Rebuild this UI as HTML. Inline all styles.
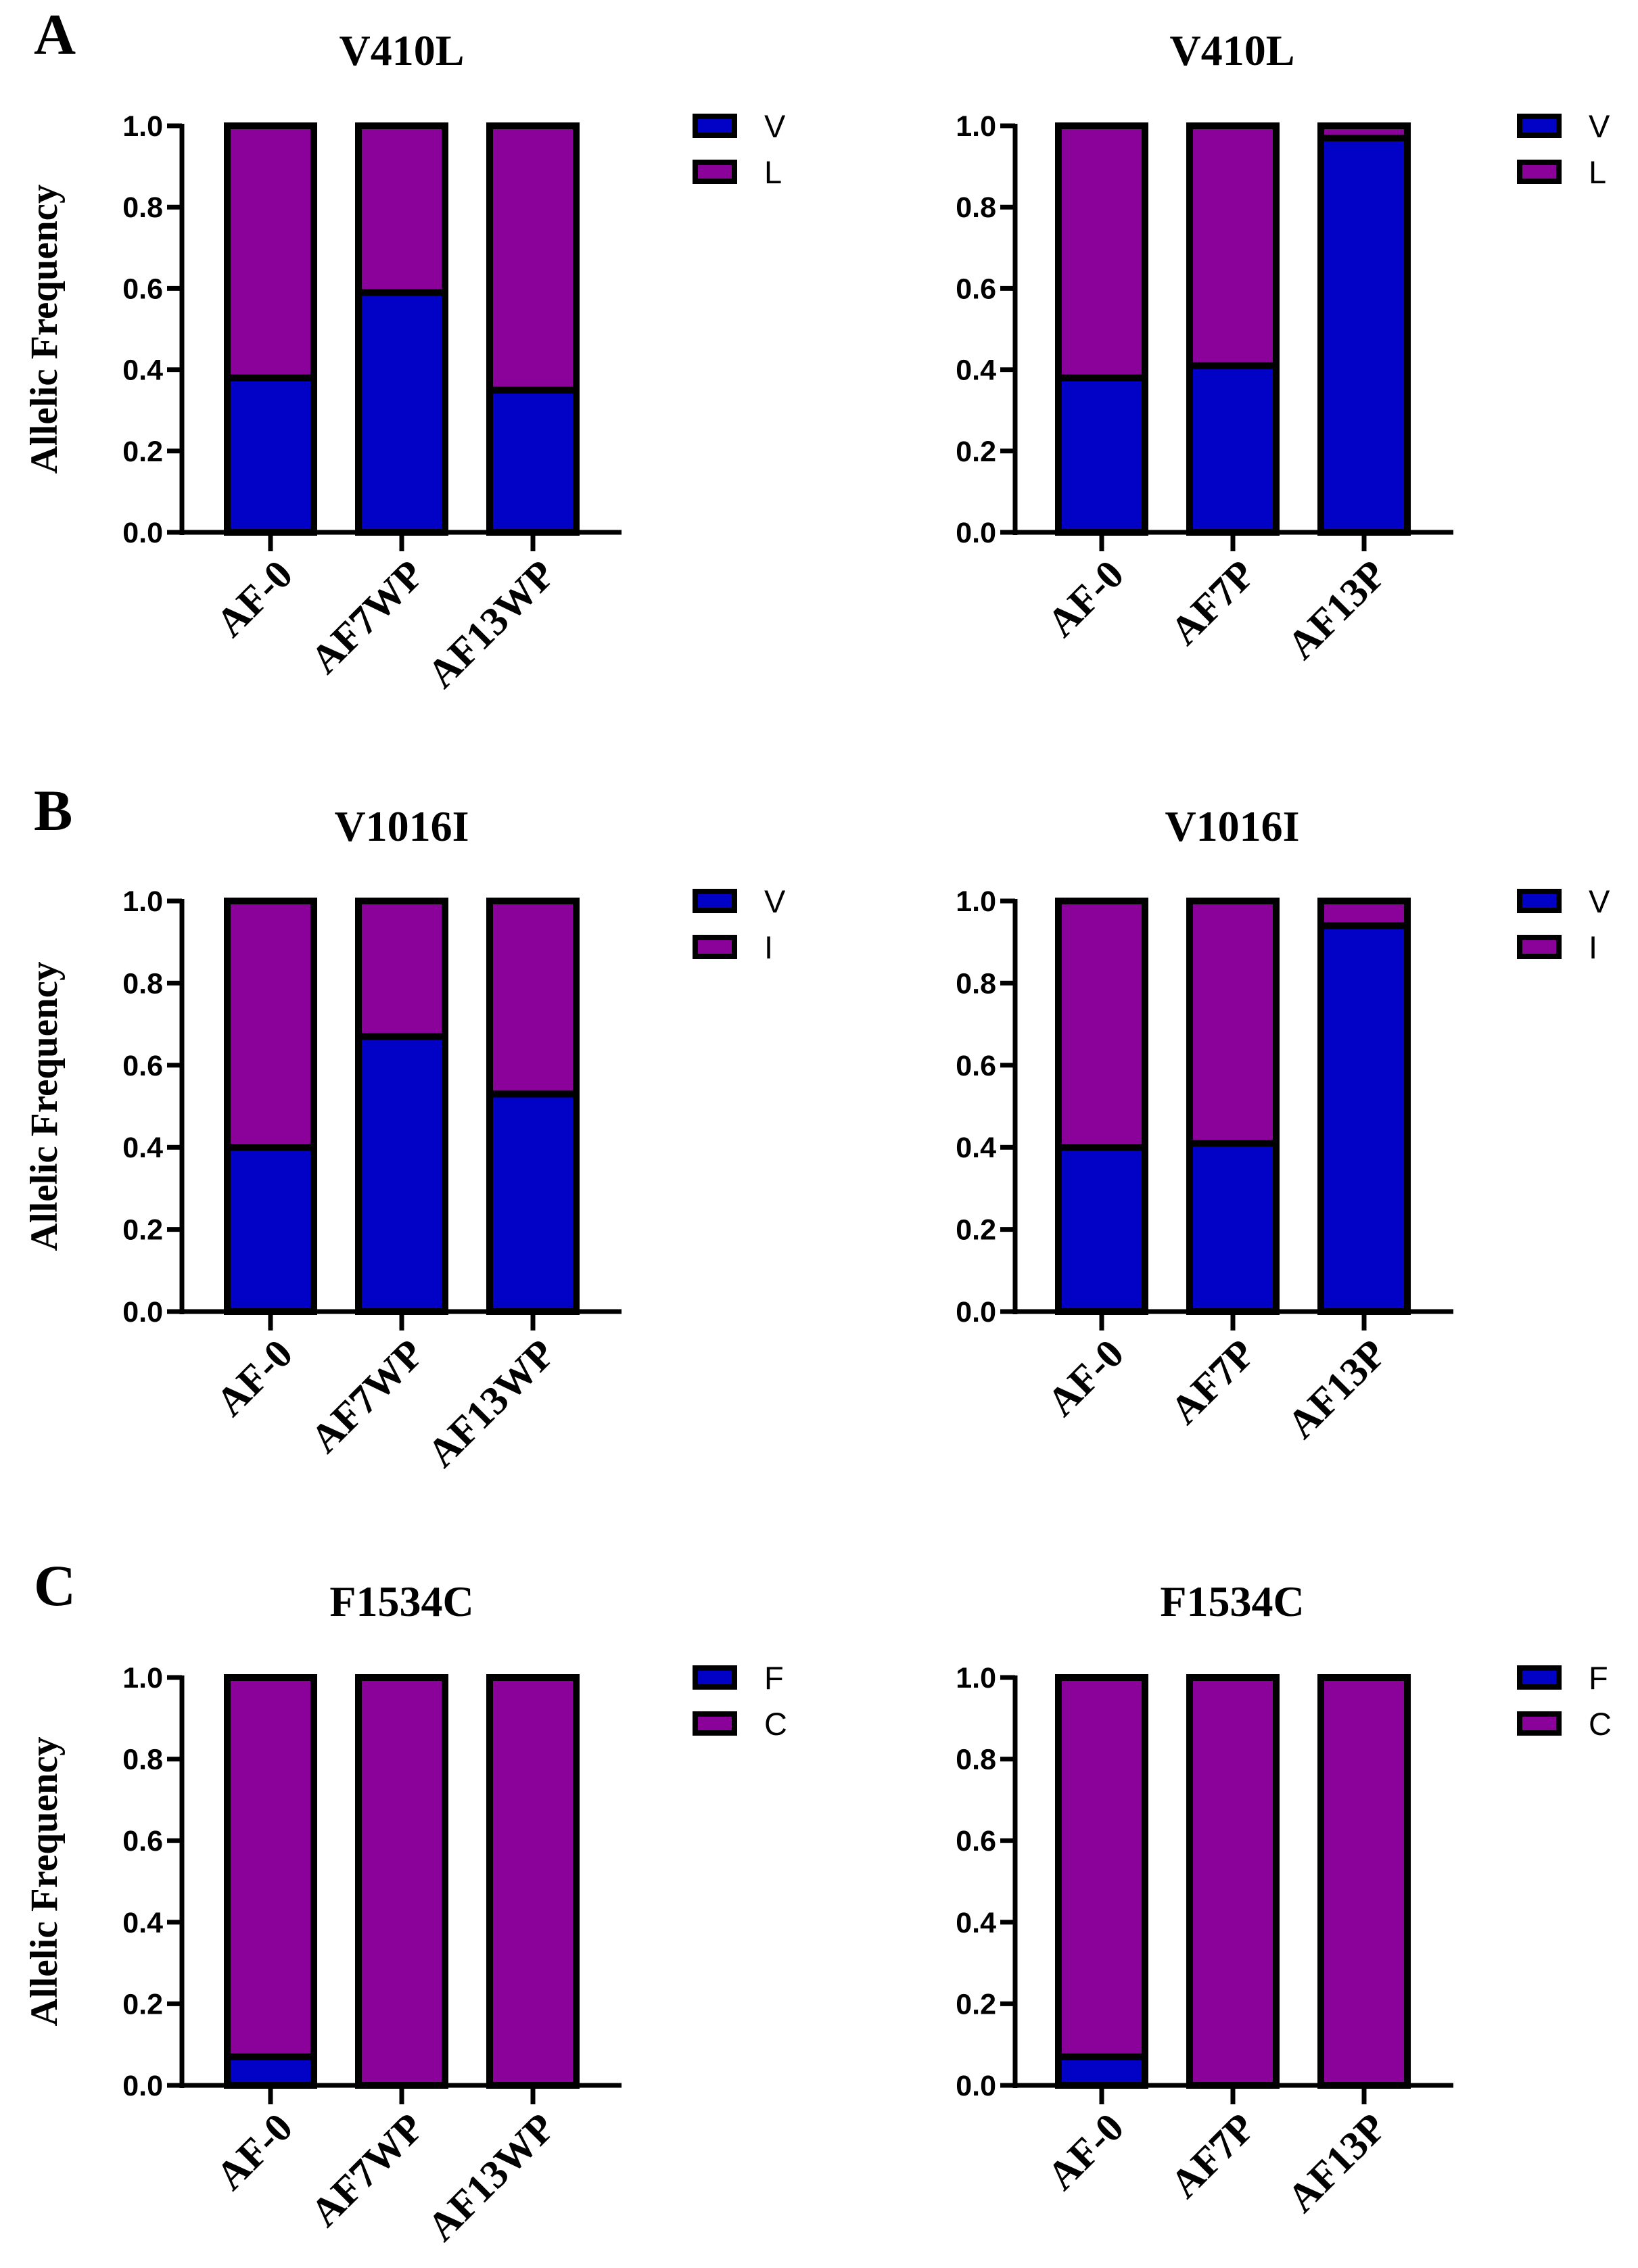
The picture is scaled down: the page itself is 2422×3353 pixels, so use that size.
<!DOCTYPE html>
<html><head><meta charset="utf-8"><style>
html,body{margin:0;padding:0;background:#fff;}
svg{display:block;}
.ttl{font-family:"Liberation Serif",serif;font-weight:bold;font-size:64px;text-anchor:middle;}
.pl{font-family:"Liberation Serif",serif;font-weight:bold;font-size:86px;}
.tk{font-family:"Liberation Sans",sans-serif;font-weight:bold;font-size:43px;text-anchor:end;}
.yt{font-family:"Liberation Serif",serif;font-weight:bold;font-size:57px;text-anchor:middle;}
.xl{font-family:"Liberation Serif",serif;font-weight:bold;font-size:60px;text-anchor:end;}
.lg{font-family:"Liberation Sans",sans-serif;font-size:47px;}
</style></head><body>
<svg id="fig" width="2422" height="3353" viewBox="0 0 2422 3353" xmlns="http://www.w3.org/2000/svg"></svg>
<script>
const titles = ["V410L","V410L","V1016I","V1016I","F1534C","F1534C"];
const panelLetters = ["A","B","C"];
const catsLeft = ["AF-0","AF7WP","AF13WP"];
const catsRight = ["AF-0","AF7P","AF13P"];
const legendA = ["V","L"];
const legendB = ["V","I"];
const legendC = ["F","C"];
const vA_left = [0.38,0.59,0.35];
const vA_right = [0.38,0.41,0.97];
const vB_left = [0.40,0.67,0.53];
const vB_right = [0.40,0.41,0.94];
const vC_left = [0.07,0,0];
const vC_right = [0.07,0,0];
const yTicks = [0,0.2,0.4,0.6,0.8,1.0];
const yTickLabels = ["0.0","0.2","0.4","0.6","0.8","1.0"];

const NS="http://www.w3.org/2000/svg";
const svg=document.getElementById('fig');
const BLUE="#0202c6", PURP="#8a0299";
function mk(tag,attrs,parent){const e=document.createElementNS(NS,tag);for(const k in attrs)e.setAttribute(k,attrs[k]);(parent||svg).appendChild(e);return e;}

const rows=[{top:186,bot:787,titleY:96,legs:legendA,vals:[vA_left,vA_right]},
            {top:1332,bot:1939,titleY:1243,legs:legendB,vals:[vB_left,vB_right]},
            {top:2480,bot:3083,titleY:2389,legs:legendC,vals:[vC_left,vC_right]}];
const cols=[{axisX:269,bar0:336,axisEnd:919,legX:1028,cats:catsLeft,titleX:594},
            {axisX:1501,bar0:1565,axisEnd:2149,legX:2247,cats:catsRight,titleX:1822}];
const barW=128, barStep=194;

rows.forEach((r,ri)=>{
  const L=mk('text',{x:50,y:r.titleY-16,class:'pl'});
  
  
  L.textContent=panelLetters[ri];
  cols.forEach((c,ci)=>{
    const g=mk('g',{});
    
    
    const y=v=>r.bot-(r.bot-r.top)*v;
    const x=i=>c.bar0+i*barStep;
    const t=mk('text',{x:c.titleX,y:r.titleY,class:'ttl'},g);
    
    
    t.textContent=titles[ri*2+ci];
    if(ci===0){
      const yt=mk('text',{x:0,y:0,class:'yt',transform:`translate(84,${(r.top+r.bot)/2}) rotate(-90)`},g);
      
      
      yt.textContent="Allelic Frequency";
    }
    r.vals[ci].forEach((v,i)=>{
      const b=mk('rect',{x:x(i),y:y(v),width:barW,height:y(0)-y(v),fill:BLUE,stroke:'#000','stroke-width':10},g);
      
      
      const p=mk('rect',{x:x(i),y:y(1),width:barW,height:y(v)-y(1),fill:PURP,stroke:'#000','stroke-width':10},g);
      
      
      const tk=mk('line',{x1:x(i)+barW/2,x2:x(i)+barW/2,y1:r.bot,y2:r.bot+28,stroke:'#000','stroke-width':7},g);
      
      
      const cx=x(i)+barW/2+36, cy=r.bot+66;
      const xl=mk('text',{x:0,y:0,class:'xl',transform:`translate(${cx},${cy}) rotate(-45)`},g);
      
      
      xl.textContent=c.cats[i];
    });
    const ya=mk('line',{x1:c.axisX,x2:c.axisX,y1:r.top-3,y2:r.bot+4,stroke:'#000','stroke-width':7},g);
    
    
    const xa=mk('line',{x1:c.axisX-22,x2:c.axisEnd,y1:r.bot,y2:r.bot,stroke:'#000','stroke-width':7},g);
    
    
    yTicks.forEach((tv,k)=>{
      const l=mk('line',{x1:c.axisX-22,x2:c.axisX,y1:y(tv),y2:y(tv),stroke:'#000','stroke-width':7},g);
      
      
      const tl=mk('text',{x:c.axisX-28,y:y(tv)+15,class:'tk'},g);
      
      
      tl.textContent=yTickLabels[k];
    });
    r.legs.forEach((lab,k)=>{
      const ly=r.top+k*68;
      const s=mk('rect',{x:c.legX,y:ly-14,width:58,height:28,fill:k?PURP:BLUE,stroke:'#000','stroke-width':8},g);
      
      
      const lt=mk('text',{x:c.legX+102,y:ly+17,class:'lg'},g);
      
      
      lt.textContent=lab;
    });
  });
});
</script>
</body></html>
